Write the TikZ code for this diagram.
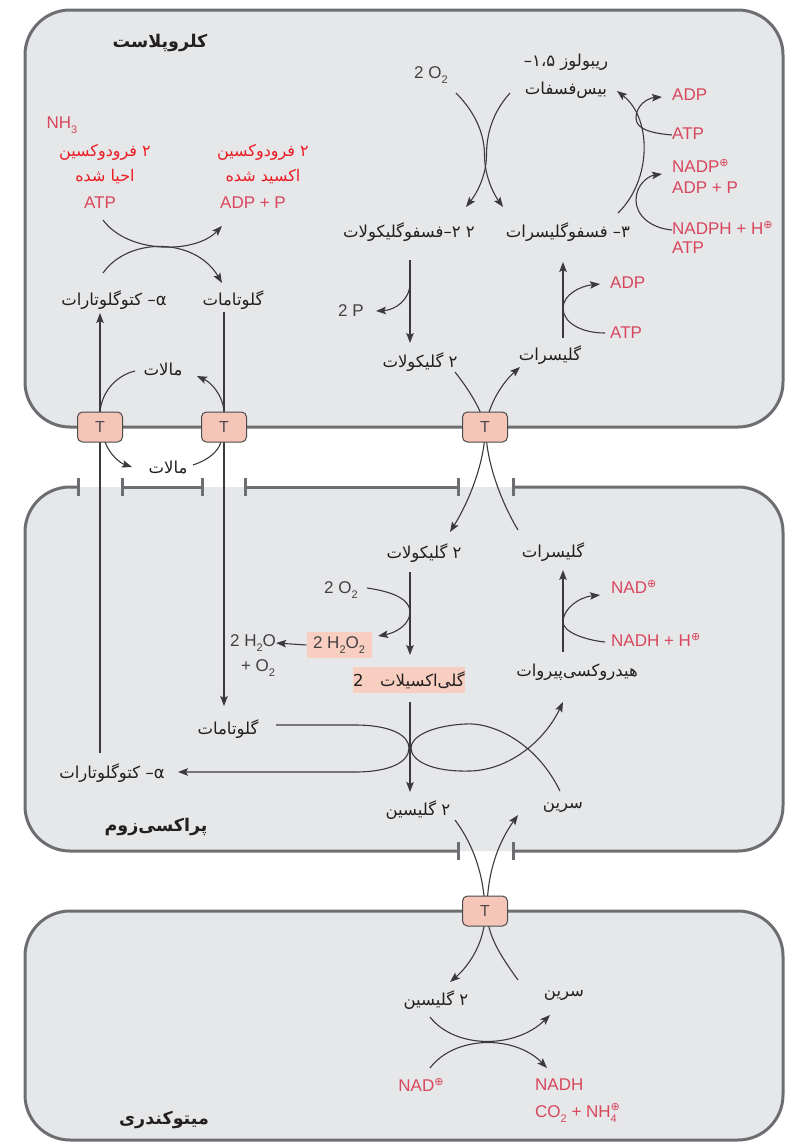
\documentclass[tikz,border=0pt]{standalone}
\usepackage{fontspec}
\setmainfont{Liberation Sans}
\newfontfamily\fafont[Script=Arabic]{DejaVu Sans}
\newfontfamily\symfont{DejaVu Sans}
\TeXXeTstate=1
\usetikzlibrary{arrows.meta}

\definecolor{membc}{HTML}{6D6E71}
\definecolor{cellc}{HTML}{E6E7E8}
\definecolor{inkc}{HTML}{231F20}
\definecolor{latc}{HTML}{414042}
\definecolor{flowc}{HTML}{3A3A3C}
\definecolor{cofc}{HTML}{D8475E}
\definecolor{redc}{HTML}{EC1C24}
\definecolor{portfill}{HTML}{F5C6B8}
\definecolor{portline}{HTML}{4A4A4C}
\definecolor{hlc}{HTML}{F8CEC1}

% right-to-left Persian text
\newcommand\fa[1]{{\fafont\beginR #1\endR}}
% charge sign and subscripts
\newcommand\pls{\raisebox{0.36em}{\symfont\fontsize{11}{11}\selectfont ⊕}}
\newcommand\lowr[1]{\raisebox{-0.3em}{\fontsize{11}{11}\selectfont #1}}

\tikzset{
  memb/.style={draw=membc, line width=3pt},
  ln/.style={draw=flowc, line width=1.1pt},
  ar/.style={ln, -{Stealth[length=10pt,width=7.5pt,inset=2pt]}},
  port/.style={draw=portline, fill=portfill, rounded corners=5pt,
    minimum width=45pt, minimum height=30pt, line width=1pt, inner sep=0pt,
    text=portline, font=\fontsize{16}{16}\selectfont},
  fatx/.style={text=inkc, inner sep=1pt, font=\fafont\fontsize{16.5}{22}\selectfont},
  fatitle/.style={text=inkc, inner sep=1pt, font=\fafont\bfseries\fontsize{17.5}{22}\selectfont},
  fared/.style={text=redc, inner sep=1pt, font=\fafont\fontsize{16}{22}\selectfont},
  cof/.style={text=cofc, inner sep=0pt, font=\fontsize{17}{21}\selectfont},
  lat/.style={text=latc, inner sep=0pt, font=\fontsize{17}{21}\selectfont},
  hl/.style={fill=hlc, inner sep=0pt, text=latc, font=\fontsize{17}{21}\selectfont},
}

\begin{document}
\begin{tikzpicture}[x=1pt,y=-1pt]
\useasboundingbox (0,0) rectangle (786,1144);

% ---------- compartments ----------
\fill[cellc, rounded corners=45pt] (25,487) rectangle (783,851);
\draw[memb, fill=cellc, rounded corners=45pt] (25,10) rectangle (783,427);
\draw[memb, fill=cellc, rounded corners=45pt] (25,911) rectangle (783,1140);
% peroxisome membrane with openings
\draw[memb, rounded corners=45pt] (78,487) -- (25,487) -- (25,851) -- (458,851);
\draw[memb, rounded corners=45pt] (513,851) -- (783,851) -- (783,487) -- (513,487);
\draw[memb] (122,487) -- (202,487);
\draw[memb] (245,487) -- (458,487);
\foreach \x in {78,122,202,245,458,513} \draw[memb] (\x,478) -- (\x,496);
\foreach \x in {458,513} \draw[memb] (\x,842) -- (\x,860);

% ---------- chloroplast labels ----------
\node[fatitle] (chl) at (160,43) {\fa{کلروپلاست}};
\node[cof] (nh3) at (62,125) {NH\lowr{3}};
\node[fared] (fdA1) at (105,152) {\fa{۲ فرودوکسین}};
\node[fared] (fdA2) at (105,177) {\fa{احیا شده}};
\node[cof] (atpA) at (100,203) {ATP};
\node[fared] (fdB1) at (263,152) {\fa{۲ فرودوکسین}};
\node[fared] (fdB2) at (263,177) {\fa{اکسید شده}};
\node[cof] (adpA) at (253,203) {ADP + P};
\node[fatx] (akgA) at (114,300) {\fa{α\kern0pt–\ کتوگلوتارات}};
\node[fatx] (gluA) at (233,300) {\fa{گلوتامات}};

\node[lat] (o2A) at (431,75) {2 O\lowr{2}};
\node[fatx] (rub1) at (566,62) {\fa{ریبولوز ۱،۵–}};
\node[fatx] (rub2) at (566,90) {\fa{بیس‌فسفات}};
\node[cof, anchor=west] (adpB) at (672,95) {ADP};
\node[cof, anchor=west] (atpB) at (672,134) {ATP};
\node[cof, anchor=west] (nadpB) at (672,166) {NADP\pls};
\node[cof, anchor=west] (adppB) at (672,188) {ADP + P};
\node[cof, anchor=west] (nadphB) at (672,228) {NADPH + H\pls};
\node[cof, anchor=west] (atpC) at (672,248) {ATP};
\node[fatx] (pgly) at (409,232) {\fa{۲ ۲–فسفوگلیکولات}};
\node[fatx] (pgla) at (568,232) {\fa{۳– فسفوگلیسرات}};
\node[lat] (twoP) at (351,311) {2 P};
\node[cof, anchor=west] (adpD) at (610,283) {ADP};
\node[cof, anchor=west] (atpD) at (610,333) {ATP};
\node[fatx] (glyA) at (420,362) {\fa{۲ گلیکولات}};
\node[fatx] (glaA) at (550,355) {\fa{گلیسرات}};
\node[fatx] (malA) at (163,369) {\fa{مالات}};
\node[fatx] (malB) at (168,467) {\fa{مالات}};

% ---------- peroxisome labels ----------
\node[fatx] (glyB) at (424,553) {\fa{۲ گلیکولات}};
\node[fatx] (glaB) at (553,552) {\fa{گلیسرات}};
\node[lat] (o2B) at (341,590) {2 O\lowr{2}};
\node[hl, minimum width=65pt, minimum height=26pt] (h2o2) at (339,645) {2 H\lowr{2}O\lowr{2}};
\node[lat] (h2o) at (253,643) {2 H\lowr{2}O};
\node[lat] (plo2) at (258,668) {+ O\lowr{2}};
\node[hl, minimum width=112pt, minimum height=26pt, text=inkc,
      font=\fafont\fontsize{16.5}{22}\selectfont] (glox) at (409,680) {\fa{گلی‌اکسیلات\quad 2}};
\node[cof, anchor=west] (nadB) at (611,587) {NAD\pls};
\node[cof, anchor=west] (nadhB) at (611,640) {NADH + H\pls};
\node[fatx] (hpyr) at (577,672) {\fa{هیدروکسی‌پیروات}};
\node[fatx] (gluB) at (228,729) {\fa{گلوتامات}};
\node[fatx] (akgB) at (112,773) {\fa{α\kern0pt–\ کتوگلوتارات}};
\node[fatx] (glyC) at (418,810) {\fa{۲ گلیسین}};
\node[fatx] (serA) at (563,807) {\fa{سرین}};
\node[fatitle] (per) at (156,827) {\fa{پراکسی‌زوم}};

% ---------- mitochondrion labels ----------
\node[fatx] (glyD) at (436,1000) {\fa{۲ گلیسین}};
\node[fatx] (serB) at (564,995) {\fa{سرین}};
\node[cof] (nadC) at (421,1085) {NAD\pls};
\node[cof, anchor=west] (nadhC) at (535,1085) {NADH};
\node[cof, anchor=west] (co2) at (535,1113) {CO\lowr{2} + NH\makebox[0pt][l]{\lowr{4}}\pls};
\node[fatitle] (mito) at (164,1120) {\fa{میتوکندری}};

% ---------- connector ends ----------
\coordinate (fdS) at (103,220);  \coordinate (fdE) at (222,226);
\coordinate (kgS) at (103,273);  \coordinate (kgE) at (222,283);
\coordinate (oxS) at (456,93);   \coordinate (oxE) at (503,207);
\coordinate (ruS) at (510,93);   \coordinate (ruE) at (466,207);
\coordinate (cyS) at (618,213);  \coordinate (cyE) at (617,91);
\coordinate (b1S) at (672,135);  \coordinate (b1E) at (662,97);
\coordinate (b2S) at (672,230);  \coordinate (b2E) at (662,174);
\coordinate (pgS) at (410,260);  \coordinate (pgE) at (410,343);
\coordinate (ppS) at (410,283);  \coordinate (ppE) at (376,311);
\coordinate (grS) at (563,338);  \coordinate (grE) at (563,262);
\coordinate (gaS) at (605,333);  \coordinate (gaE) at (600,284);
\coordinate (glS) at (455,372);  \coordinate (glE) at (450,532);
\coordinate (gsS) at (518,530);  \coordinate (gsE) at (520,367);
\coordinate (akS) at (100,753);  \coordinate (akE) at (100,313);
\coordinate (guS) at (224,312);  \coordinate (guE) at (224,706);
\coordinate (m1E) at (135,371);  \coordinate (m2E) at (197,376);
\coordinate (m3E) at (132,467);  \coordinate (m4S) at (193,465);
\coordinate (gpS) at (410,572);  \coordinate (gpE) at (410,655);
\coordinate (o2S) at (367,588);  \coordinate (o2E) at (378,636);
\coordinate (hpS) at (563,652);  \coordinate (hpE) at (563,570);
\coordinate (nhS) at (605,642);  \coordinate (nhE) at (600,595);
\coordinate (guL) at (276,725);  \coordinate (akL) at (178,772);
\coordinate (seS) at (560,791);  \coordinate (seE) at (563,702);
\coordinate (gxS) at (410,702);  \coordinate (gxE) at (410,792);
\coordinate (g2S) at (455,820);  \coordinate (g2E) at (450,982);
\coordinate (s2S) at (518,980);  \coordinate (s2E) at (518,815);
\coordinate (mgS) at (430,1017); \coordinate (mgE) at (550,1015);
\coordinate (mnS) at (430,1068); \coordinate (mnE) at (547,1068);

% ---------- chloroplast flows ----------
\draw[ar] (fdS) .. controls (128,254) and (195,254) .. (fdE);
\draw[ar] (kgS) .. controls (128,237) and (195,237) .. (kgE);
\draw[ar] (oxS) .. controls (476,113) and (484.5,135) .. (484.5,155)
               .. controls (484.5,175) and (493,193) .. (oxE);
\draw[ar] (ruS) .. controls (492,113) and (486.5,135) .. (486.5,155)
               .. controls (486.5,175) and (477,193) .. (ruE);
\draw[ar] (cyS) .. controls (652,180) and (652,118) .. (cyE);
\draw[ar] (b1S) .. controls (648,133) and (636,128) .. (636,118)
               .. controls (636,105) and (648,98) .. (b1E);
\draw[ar] (b2S) .. controls (650,228) and (636,215) .. (636,200)
               .. controls (636,185) and (648,176) .. (b2E);
\draw[ar] (pgS) -- (pgE);
\draw[ar] (ppS) .. controls (410,300) and (395,310) .. (ppE);
\draw[ar] (grS) -- (grE);
\draw[ar] (gaS) .. controls (580,333) and (563,322) .. (563,308)
               .. controls (563,295) and (580,286) .. (gaE);

% ---------- exchange through the ports ----------
\draw[ar] (glS) .. controls (473,395) and (484,415) .. (485,430)
               .. controls (485,460) and (470,500) .. (glE);
\draw[ar] (gsS) .. controls (500,500) and (486,460) .. (486,430)
               .. controls (486,410) and (500,385) .. (gsE);
\draw[ar] (akS) -- (akE);
\draw[ar] (guS) -- (guE);
\draw[ln] (100,412) .. controls (102,390) and (118,375) .. (m1E);
\draw[ar] (224,410) .. controls (222,395) and (212,383) .. (m2E);
\draw[ar] (105,442) .. controls (110,455) and (120,463) .. (m3E);
\draw[ln] (m4S) .. controls (208,460) and (218,452) .. (221,442);

% ---------- peroxisome flows ----------
\draw[ar] (gpS) -- (gpE);
\draw[ar] (o2S) .. controls (395,592) and (410,600) .. (410,612)
               .. controls (410,625) and (395,633) .. (o2E);
\draw[ar] (h2o2.west) -- (h2o.east);
\draw[ar] (hpS) -- (hpE);
\draw[ar] (nhS) .. controls (585,640) and (563,632) .. (563,622)
               .. controls (563,608) and (580,597) .. (nhE);
\draw[ar] (guL) -- (355,725) .. controls (390,725) and (409,735) .. (409,748)
               .. controls (409,762) and (390,772) .. (355,772) -- (akL);
\draw[ar] (seS) .. controls (535,740) and (490,722) .. (465,724)
               .. controls (430,726) and (411,737) .. (411,748)
               .. controls (411,760) and (430,772) .. (470,771)
               .. controls (510,770) and (545,740) .. (seE);
\draw[ar] (gxS) -- (gxE);
\draw[ar] (g2S) .. controls (470,840) and (484,870) .. (485,911)
               .. controls (486,940) and (470,965) .. (g2E);
\draw[ar] (s2S) .. controls (500,955) and (487,935) .. (487,911)
               .. controls (487,870) and (500,840) .. (s2E);

% ---------- mitochondrion flows ----------
\draw[ar] (mgS) .. controls (455,1049) and (515,1049) .. (mgE);
\draw[ar] (mnS) .. controls (455,1035) and (515,1035) .. (mnE);

% ---------- transporters ----------
\node[port] (tA) at (100,427) {T};
\node[port] (tB) at (224,427) {T};
\node[port] (tC) at (485,427) {T};
\node[port] (tD) at (485,911) {T};
\end{tikzpicture}
\end{document}
